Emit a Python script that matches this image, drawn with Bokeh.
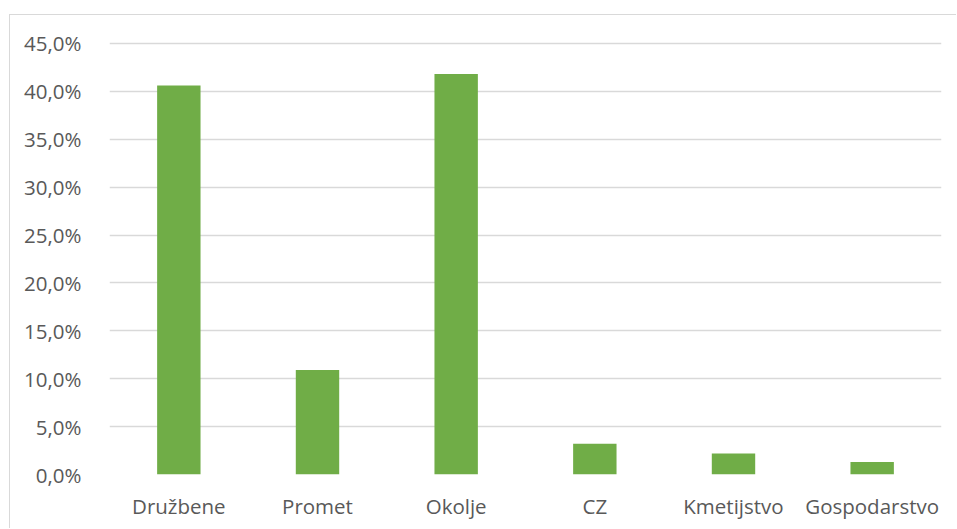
from bokeh.plotting import figure
from bokeh.models import ColumnDataSource, FixedTicker, FactorRange, Range1d
from bokeh.embed import file_html
from bokeh.resources import INLINE

categories = ["Družbene", "Promet", "Okolje", "CZ", "Kmetijstvo", "Gospodarstvo"]
values = [40.6, 10.9, 41.8, 3.2, 2.2, 1.3]
y_ticks = [0, 5, 10, 15, 20, 25, 30, 35, 40, 45]
y_tick_labels = ["0,0%", "5,0%", "10,0%", "15,0%", "20,0%", "25,0%", "30,0%", "35,0%", "40,0%", "45,0%"]

FONT = "Open Sans"
TXT = "#595959"

src = ColumnDataSource(dict(cat=categories, val=values))

p = figure(width=947, height=514, x_range=FactorRange(*categories, range_padding=0),
           y_range=Range1d(0, 45.2), output_backend="svg", toolbar_location=None,
           min_border_left=99, min_border_right=16, min_border_top=26, min_border_bottom=55)
p.outline_line_color = None
p.background_fill_color = "white"
p.border_fill_color = "white"
p.styles = {"margin-left": "9px", "margin-top": "14px",
            "border-top": "1px solid #d9d9d9", "border-left": "1px solid #d9d9d9"}

p.vbar(x="cat", top="val", width=0.313, source=src, fill_color="#70ad47", line_color=None)

p.yaxis.ticker = FixedTicker(ticks=y_ticks)
p.yaxis.major_label_overrides = {t: l for t, l in zip(y_ticks, y_tick_labels)}
for ax in (p.xaxis, p.yaxis):
    ax.axis_line_color = None
    ax.major_tick_line_color = None
    ax.minor_tick_line_color = None
    ax.major_label_text_font = FONT
    ax.major_label_text_font_size = "20.5px"
    ax.major_label_text_color = TXT
p.yaxis.major_label_standoff = 22
p.xaxis.major_label_standoff = 11

p.xgrid.grid_line_color = None
p.ygrid.grid_line_color = "#d9d9d9"
p.ygrid.grid_line_width = 1.3
p.ygrid.ticker = FixedTicker(ticks=y_ticks)

open("out.html", "w").write(file_html(p, INLINE))
